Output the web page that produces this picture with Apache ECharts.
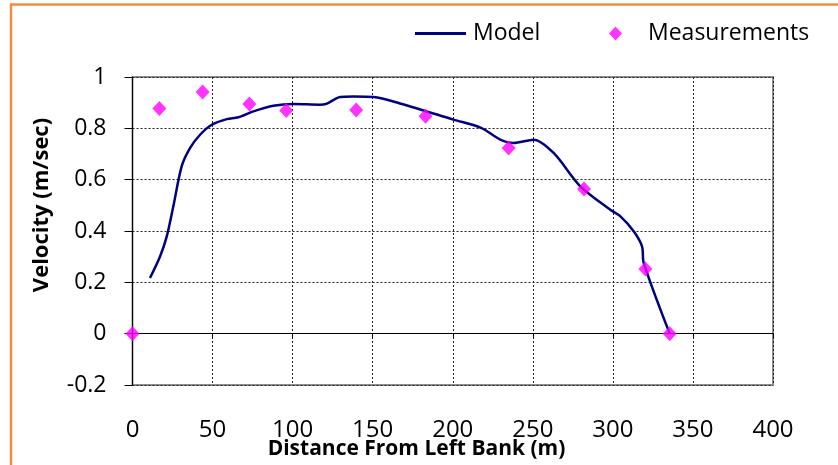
<!DOCTYPE html>
<html>
<head>
<meta charset="utf-8">
<script src="https://cdn.jsdelivr.net/npm/echarts@6/dist/echarts.min.js"></script>
<style>html,body{margin:0;padding:0;background:#fff}#c{width:838px;height:465px}</style>
</head>
<body>
<div id="c"></div>
<script>
// Model curve (distance m, velocity m/s)
const modelX = [10.9, 17.2, 21.4, 25.5, 30.7, 35.9, 42.2, 49.5, 58.9, 66.1, 75.5, 88, 100.5, 117, 121, 129.7, 138, 150.5, 167, 200.5, 218, 229.7, 238, 250.5, 263, 279.7, 298.4, 304.7, 313, 318.2, 319.3, 335.5];
const modelY = [0.217, 0.301, 0.379, 0.496, 0.652, 0.723, 0.775, 0.814, 0.836, 0.843, 0.866, 0.888, 0.895, 0.892, 0.895, 0.922, 0.924, 0.922, 0.897, 0.834, 0.801, 0.756, 0.743, 0.756, 0.704, 0.574, 0.483, 0.457, 0.399, 0.340, 0.275, 0];
// Measurements
const measX = [0, 16.8, 43.8, 73, 96, 139.7, 183, 234.9, 282, 320.3, 335.5];
const measY = [0, 0.877, 0.942, 0.895, 0.869, 0.871, 0.847, 0.723, 0.564, 0.252, 0];
const xTicks = {min: 0, max: 400, step: 50};
const yTicks = {min: -0.2, max: 1, step: 0.2};

const FONT = '"Open Sans", sans-serif';
const chart = echarts.init(document.getElementById('c'));
chart.setOption({
  animation: false,
  backgroundColor: '#fff',
  grid: {left: 132.5, right: 65, top: 77, bottom: 80, containLabel: false, outerBoundsMode: 'none',
         show: true, borderColor: '#8c8c8c', borderWidth: 2, backgroundColor: 'transparent'},
  legend: [
    {data: [{name: 'Model', icon: 'rect'}], left: 410, top: 17, itemWidth: 51, itemHeight: 3,
     textStyle: {fontFamily: FONT, fontSize: 23, color: '#000', padding: [0, 0, 0, 2]}},
    {data: [{name: 'Measurements', icon: 'diamond'}], left: 604, top: 17, itemWidth: 13, itemHeight: 14,
     textStyle: {fontFamily: FONT, fontSize: 23, color: '#000', padding: [0, 0, 0, 21]}}
  ],
  xAxis: [
    {
      type: 'value', min: xTicks.min, max: xTicks.max, interval: xTicks.step, position: 'bottom',
      axisLine: {show: false, onZero: false},
      axisTick: {show: false},
      axisLabel: {margin: 33, fontFamily: FONT, fontSize: 24, color: '#000'},
      splitLine: {show: true, lineStyle: {color: '#222', type: [2, 2], width: 1}}
    },
    {
      type: 'value', min: xTicks.min, max: xTicks.max, interval: xTicks.step, position: 'bottom',
      axisLine: {show: true, onZero: true, lineStyle: {color: '#000', width: 1}},
      axisTick: {show: true, length: 5, lineStyle: {color: '#000'}},
      axisLabel: {show: false},
      splitLine: {show: false}
    }
  ],
  yAxis: {
    type: 'value', min: yTicks.min, max: yTicks.max, interval: yTicks.step,
    axisLine: {show: true, onZero: false, lineStyle: {color: '#000', width: 1}},
    axisTick: {show: true, length: 8, lineStyle: {color: '#000'}},
    axisLabel: {margin: 26, fontFamily: FONT, fontSize: 23, color: '#000', formatter: v => String(Math.round(v * 10) / 10)},
    splitLine: {show: true, lineStyle: {color: '#222', type: [2, 2], width: 1}}
  },
  graphic: [
    {type: 'rect', shape: {x: 11, y: 4.5, width: 840, height: 480}, style: {fill: 'none', stroke: '#F58B3C', lineWidth: 2.5}, z: 100},
    {type: 'text', x: 41.7, y: 205, rotation: Math.PI / 2, style: {text: 'Velocity (m/sec)', fontFamily: FONT, fontWeight: 'bold', fontSize: 22, fill: '#000', align: 'center', verticalAlign: 'middle'}},
    {type: 'text', x: 416.5, y: 449, style: {text: 'Distance From Left Bank (m)', fontFamily: FONT, fontWeight: 'bold', fontSize: 21, fill: '#000', align: 'center', verticalAlign: 'middle'}}
  ],
  series: [
    {name: 'Model', type: 'line', smooth: 0.3, symbol: 'none', showSymbol: false, xAxisIndex: 0,
     lineStyle: {color: '#000080', width: 2.5}, itemStyle: {color: '#000080'},
     data: modelX.map((x, i) => [x, modelY[i]]), z: 2},
    {name: 'Measurements', type: 'scatter', symbol: 'diamond', symbolSize: [14, 15], xAxisIndex: 0,
     itemStyle: {color: '#FF00FF'},
     data: measX.map((x, i) => [x, measY[i]]), z: 3}
  ]
});
</script>
</body>
</html>
